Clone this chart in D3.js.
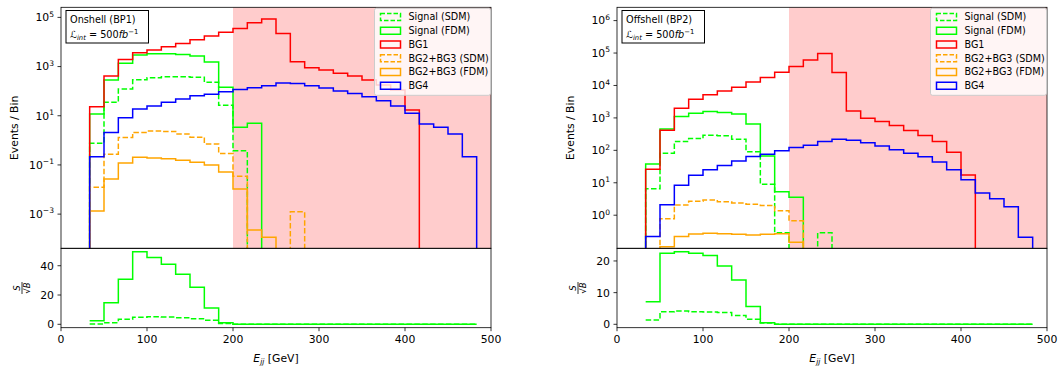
<!DOCTYPE html>
<html><head><meta charset="utf-8">
<script src="https://cdn.jsdelivr.net/npm/d3@7"></script>
</head><body style="margin:0;background:#fff"><svg id="c" width="1060" height="371"></svg>
<script>
// ---- data ----
const binEdges = [33.333,50,66.667,83.333,100,116.667,133.333,150,166.667,183.333,200,216.667,233.333,250,266.667,283.333,300,316.667,333.333,350,366.667,383.333,400,416.667,433.333,450,466.667,483.333];
const xTicks = [0,100,200,300,400,500];
const seriesNames = ["Signal (SDM)","Signal (FDM)","BG1","BG2+BG3 (SDM)","BG2+BG3 (FDM)","BG4"];
const seriesColors = ["#00ff00","#00ff00","#ff0000","#ffa500","#ffa500","#0000ff"];
const seriesDashed = [true,false,false,true,false,false];

const bp1SignalSDM = [0.755,35,122,290,351,385,385,364,228,26.5,0.378,0,0,0,0,0,0,0,0,0,0,0,0,0,0,0,0];
const bp1SignalFDM = [11.7,282,1350,2930,3310,3310,3130,2670,1520,143,3.4,5.0,0,0,0,0,0,0,0,0,0,0,0,0,0,0,0];
const bp1BG1 = [23,411,1960,3640,4690,6380,8770,12300,17400,24600,35700,60300,85300,22300,1570,893,721,530,411,282,177,111,17,0,0,0,0];
const bp1BG23SDM = [0.0123,0.27,1.32,2.1,2.4,2.3,1.8,1.35,0.71,0.29,0.035,0,0,0,0.00125,0,0,0,0,0,0,0,0,0,0,0,0];
const bp1BG23FDM = [0.00134,0.0267,0.12,0.204,0.19,0.179,0.156,0.13,0.099,0.052,0.0105,0.000226,0.000114,0,0,0,0,0,0,0,0,0,0,0,0,0,0];
const bp1BG4 = [0.215,2.1,8.3,18.7,24.8,35,47.8,65,74,95,118,137,166,213,207,166,134,101,81,59,41,25,12.5,4.6,3.4,1.8,0.215];
const bp1RatioSDM = [0.15,1.1,3.4,4.8,5.2,5.0,4.5,3.8,2.7,0.5,0.01,0,0,0,0,0,0,0,0,0,0,0,0,0,0,0,0];
const bp1RatioFDM = [2.5,14.7,30.7,49.6,45.7,41,34.1,25.3,11.1,1.0,0.05,0.03,0,0,0,0,0,0,0,0,0,0,0,0,0,0,0];
const bp1YTicks = [1e-3,1e-1,1e1,1e3,1e5];
const bp1RatioTicks = [0,20,40];

const bp2SignalSDM = [6.5,82,186,230,290,280,220,91,9,0.29,0,0,0.29,0,0,0,0,0,0,0,0,0,0,0,0,0,0];
const bp2SignalFDM = [38,457,1100,1400,1570,1460,1330,653,67.5,5.3,3.6,0,0,0,0,0,0,0,0,0,0,0,0,0,0,0,0];
const bp2BG1 = [26,415,1990,3780,5130,6810,8850,12900,17500,25700,38200,61500,96200,24900,1645,980,769,579,406,285,186,88,17.5,0,0,0,0];
const bp2BG23SDM = [0.012,0.78,2.05,2.7,2.96,2.6,2.4,2.18,1.98,1.37,0.67,0,0,0,0,0,0,0,0,0,0,0,0,0,0,0,0];
const bp2BG23FDM = [0.0013,0.107,0.22,0.265,0.278,0.27,0.26,0.247,0.26,0.27,0.147,0,0,0,0,0,0,0,0,0,0,0,0,0,0,0,0];
const bp2BG4 = [0.22,2.1,8.4,17,25,33.8,47.2,64.4,76,98,122,144,186,220,205,170,137,105,82,64,44,25,12.3,4.8,3.2,1.84,0.21];
const bp2RatioSDM = [1.36,4.0,4.2,4.0,3.9,3.7,2.8,1.6,0.4,0.01,0,0,0,0,0,0,0,0,0,0,0,0,0,0,0,0,0];
const bp2RatioFDM = [7.1,22.4,22.9,22.4,21.7,18.4,14.0,5.6,0.5,0.03,0.02,0,0,0,0,0,0,0,0,0,0,0,0,0,0,0,0];
const bp2YTicks = [1e0,1e1,1e2,1e3,1e4,1e5,1e6];
const bp2RatioTicks = [0,10,20];

const panels = [
  {id:"p1", title:"Onshell (BP1)", x0:61, x1:491, yExp:[-4.39,5.41], yTicks:bp1YTicks,
   series:[bp1SignalSDM,bp1SignalFDM,bp1BG1,bp1BG23SDM,bp1BG23FDM,bp1BG4],
   ratio:[bp1RatioSDM,bp1RatioFDM], rDomain:[-2.32,51.9], rTicks:bp1RatioTicks},
  {id:"p2", title:"Offshell (BP2)", x0:617, x1:1047, yExp:[-1.02,6.41], yTicks:bp2YTicks,
   series:[bp2SignalSDM,bp2SignalFDM,bp2BG1,bp2BG23SDM,bp2BG23FDM,bp2BG4],
   ratio:[bp2RatioSDM,bp2RatioFDM], rDomain:[-1.07,24.0], rTicks:bp2RatioTicks}
];

const TOP = 7.3, MID = 248.3, BOT = 327.7;
const svg = d3.select("#c").style("font-family","'DejaVu Sans'");
const defs = svg.append("defs");
const DASH = "5.5,2.4";
const FS = 10.8;

function supText(sel, base, sup, size) {
  sel.append("tspan").text(base);
  sel.append("tspan").attr("font-size", size*0.7).attr("dy", -size*0.42).text(sup);
}

panels.forEach(p => {
  const x = d3.scaleLinear().domain([0,500]).range([p.x0,p.x1]);
  const y = d3.scaleLog().domain([Math.pow(10,p.yExp[0]), Math.pow(10,p.yExp[1])]).range([MID,TOP]);
  const yr = d3.scaleLinear().domain(p.rDomain).range([BOT,MID]);
  const g = svg.append("g");

  defs.append("clipPath").attr("id","clipT"+p.id).append("rect")
    .attr("x",p.x0).attr("y",TOP).attr("width",p.x1-p.x0).attr("height",MID-TOP);
  defs.append("clipPath").attr("id","clipB"+p.id).append("rect")
    .attr("x",p.x0).attr("y",MID).attr("width",p.x1-p.x0).attr("height",BOT-MID);

  g.append("rect").attr("x",x(200)).attr("y",TOP).attr("width",x(500)-x(200)).attr("height",MID-TOP)
    .attr("fill","rgba(255,0,0,0.2)");

  const yOff = MID + 30;
  const yv = v => v > 0 ? y(v) : yOff;
  const line = d3.line();
  const gT = g.append("g").attr("clip-path",`url(#clipT${p.id})`);
  p.series.forEach((vals, k) => {
    const pts = [[x(binEdges[0]), yOff]];
    vals.forEach((v,i) => { pts.push([x(binEdges[i]), yv(v)]); pts.push([x(binEdges[i+1]), yv(v)]); });
    pts.push([x(binEdges[binEdges.length-1]), yOff]);
    gT.append("path").attr("d", line(pts)).attr("fill","none")
      .attr("stroke", seriesColors[k]).attr("stroke-width",1.5)
      .attr("stroke-dasharray", seriesDashed[k] ? DASH : null);
  });

  const gB = g.append("g").attr("clip-path",`url(#clipB${p.id})`);
  p.ratio.forEach((vals,k) => {
    const pts = [];
    vals.forEach((v,i) => { pts.push([x(binEdges[i]), yr(v)]); pts.push([x(binEdges[i+1]), yr(v)]); });
    gB.append("path").attr("d", line(pts)).attr("fill","none")
      .attr("stroke","#00ff00").attr("stroke-width",1.5)
      .attr("stroke-dasharray", k===0 ? DASH : null);
  });

  [[TOP,MID],[MID,BOT]].forEach(([a,b]) => {
    g.append("rect").attr("x",p.x0).attr("y",a).attr("width",p.x1-p.x0).attr("height",b-a)
      .attr("fill","none").attr("stroke","#000").attr("stroke-width",0.8);
  });

  p.yTicks.forEach(t => {
    const yy = y(t);
    g.append("line").attr("x1",p.x0-3.5).attr("x2",p.x0).attr("y1",yy).attr("y2",yy).attr("stroke","#000").attr("stroke-width",0.8);
    const e = Math.round(Math.log10(t));
    const tx = g.append("text").attr("x",p.x0-7).attr("y",yy+3.9).attr("text-anchor","end").attr("font-size",FS);
    supText(tx, "10", e < 0 ? "\u2212" + (-e) : String(e), FS);
  });
  p.rTicks.forEach(t => {
    const yy = yr(t);
    g.append("line").attr("x1",p.x0-3.5).attr("x2",p.x0).attr("y1",yy).attr("y2",yy).attr("stroke","#000").attr("stroke-width",0.8);
    g.append("text").attr("x",p.x0-7).attr("y",yy+3.9).attr("text-anchor","end").attr("font-size",FS).text(t);
  });
  xTicks.forEach(t => {
    const xx = x(t);
    g.append("line").attr("x1",xx).attr("x2",xx).attr("y1",BOT).attr("y2",BOT+3.5).attr("stroke","#000").attr("stroke-width",0.8);
    g.append("text").attr("x",xx).attr("y",BOT+15.3).attr("text-anchor","middle").attr("font-size",FS).text(t);
  });
  const xl = g.append("text").attr("x",(p.x0+p.x1)/2).attr("y",BOT+34).attr("text-anchor","middle").attr("font-size",FS);
  xl.append("tspan").attr("font-style","italic").text("E");
  xl.append("tspan").attr("font-style","italic").attr("font-size",FS*0.7).attr("dy",2.5).text("jj");
  xl.append("tspan").attr("dy",-2.5).text(" [GeV]");
  g.append("text").attr("transform",`translate(${p.x0-43.5},${(TOP+MID)/2}) rotate(-90)`)
    .attr("text-anchor","middle").attr("font-size",FS).text("Events / Bin");
  const fr = g.append("g").attr("transform",`translate(${p.x0-39},${(MID+BOT)/2}) rotate(-90)`);
  fr.append("text").attr("x",0).attr("y",-1.8).attr("text-anchor","middle").attr("font-size",8.5).attr("font-style","italic").text("S");
  fr.append("line").attr("x1",-6).attr("x2",6).attr("y1",0).attr("y2",0).attr("stroke","#000").attr("stroke-width",0.8);
  fr.append("text").attr("x",0).attr("y",7.6).attr("text-anchor","middle").attr("font-size",8.5).text("\u221A").append("tspan").attr("font-style","italic").text("B");

  const bx = p.x0 + 5, by = 10.5;
  g.append("rect").attr("x",bx).attr("y",by).attr("width",82.5).attr("height",32.5)
    .attr("fill","#fff").attr("stroke","#000").attr("stroke-width",1);
  g.append("text").attr("x",bx+4).attr("y",by+12).attr("font-size",9.7).text(p.title);
  const lt = g.append("text").attr("x",bx+4).attr("y",by+27).attr("font-size",9.7);
  lt.append("tspan").text("\u2112");
  lt.append("tspan").attr("font-style","italic").attr("font-size",6.8).attr("dy",2).text("int");
  lt.append("tspan").attr("dy",-2).text(" = 500");
  lt.append("tspan").attr("font-style","italic").text("fb");
  lt.append("tspan").attr("font-size",6.8).attr("dy",-4).text("\u22121");

  const lw = 116, lh = 87;
  const lx = p.x1 - lw - 0.5, ly = TOP + 1;
  const lg = g.append("g");
  lg.append("rect").attr("x",lx).attr("y",ly).attr("width",lw).attr("height",lh).attr("rx",2)
    .attr("fill","rgba(255,255,255,0.8)").attr("stroke","#cccccc").attr("stroke-width",1);
  seriesNames.forEach((name,k) => {
    const cy = ly + 8.7 + 13.75*k;
    lg.append("rect").attr("x",lx+6).attr("y",cy-3.5).attr("width",20).attr("height",7)
      .attr("fill","none").attr("stroke",seriesColors[k]).attr("stroke-width",1.5)
      .attr("stroke-dasharray", seriesDashed[k] ? "4.5,2" : null);
    lg.append("text").attr("x",lx+34).attr("y",cy+3.4).attr("font-size",9.6).text(name);
  });
});
</script></body></html>
